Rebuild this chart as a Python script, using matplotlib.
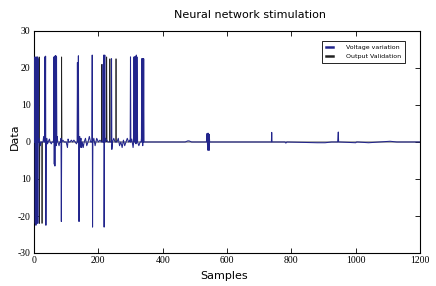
import matplotlib
matplotlib.use("Agg")
import matplotlib.pyplot as plt

# (sample, value) - voltage variation (blue)
volt_pts = [
    (0, 0), (2, 0), (3, 23), (4, -22), (5, 22.5), (6, -22.5), (7, 23), (8, -22),
    (9, 22.8), (10, -21.5), (11, 23), (12, -22), (13, 22.5), (14, 0), (16, 1), (18, 0),
    (20, -1), (22, 0), (28, 0), (30, 1.5), (32, 0), (33, 0), (34, 23), (35, 0),
    (36, 23.2), (37, -22.5), (38, 0), (40, 1), (42, -0.5), (44, 0), (48, 0.8), (50, 0),
    (54, -0.5), (56, 0), (60, 0), (61, 1), (62, 23), (63, -6), (64, 23), (65, -6.5),
    (66, 23.3), (67, 0), (68, 23.3), (69, -1), (70, 23), (71, 0), (72, 1.5), (74, 0),
    (78, -1), (80, 0), (83, 0), (84, 1), (85, -21.5), (86, 0), (90, 0.5), (94, 0),
    (100, 0), (104, -1.5), (106, 0.8), (108, 0), (112, 0), (116, 0.5), (120, 0),
    (124, 0.5), (128, 0), (132, -0.5), (134, 0), (135, 21.5), (136, 0), (138, 23.3),
    (139, 0), (140, -21.5), (141, 0), (142, 1.5), (143, -1.5), (144, 0), (146, 1),
    (148, -1.5), (150, 0), (153, -1.5), (156, 0), (160, 1), (164, -1), (168, 0),
    (172, 1.5), (176, 0), (180, 0), (181, 23.5), (182, -23), (183, 0), (186, 1),
    (190, -1), (195, 1), (200, 0), (205, 0.5), (210, 0), (214, 0), (215, 21),
    (216, 0), (217, 23.5), (218, -23), (219, 0), (220, 23.5), (221, 0), (222, 1),
    (230, 0), (240, 0), (241, 22.5), (242, -2), (244, 0), (248, 1), (252, 0),
    (258, 0), (262, 1), (266, -1), (270, 0), (274, -1.5), (278, 0.5), (282, -1),
    (286, 0), (290, 1), (294, 0), (298, 0.5), (299, 0), (300, 23), (301, 0),
    (304, 0.8), (308, -1.5), (310, 0), (311, 23), (312, 0), (313, 23), (315, 0),
    (316, 23), (317, -0.5), (318, 23.5), (319, 0), (320, 23), (322, 0), (326, -1),
    (330, 0), (333, 0), (334, 1), (335, 22.5), (336, 0), (337, 22.5), (338, -1),
    (339, 22.5), (340, 0), (341, 22.5), (342, 0), (344, 0), (350, 0), (470, 0),
    (478, 0.3), (482, 0.3), (490, 0), (530, 0), (536, 0), (538, 2.3), (540, -2.2),
    (541, 2.4), (542, -2), (543, 2.2), (544, -2.3), (545, 2), (546, 0), (548, 0),
    (600, 0), (736, 0), (738, 0), (739, 2.6), (740, 0), (742, 0), (780, 0),
    (783, -0.3), (786, 0), (880, -0.2), (905, -0.2), (925, 0), (944, 0), (946, 2.7),
    (947, 0), (948, 0), (950, 0), (1000, -0.2), (1003, 0), (1006, 0), (1040, -0.2),
    (1107, 0.2), (1128, 0), (1200, 0),
]

# (sample, value) - output validation (black)
out_pts = [
    (0, 0), (15, 0), (16, 23), (17, -22), (18, 0), (24, 0), (25, -22), (26, 0),
    (33, 0), (34, 23), (35, 0), (85, 0), (86, 23), (87, 0), (210, 0), (211, 21),
    (212, 0), (225, 0), (226, 23), (227, 0), (235, 0), (236, 22.5), (237, 0),
    (254, 0), (255, 22.5), (256, 0), (1200, 0),
]

xticks = [0, 200, 400, 600, 800, 1000, 1200]
yticks = [-30, -20, -10, 0, 10, 20, 30]
ytick_labels = ['-30', '-20', '10', '0', '10', '20', '30']

volt_x, volt_y = zip(*volt_pts)
out_x, out_y = zip(*out_pts)

fig = plt.figure(figsize=(4.36, 2.86), dpi=100)
ax = fig.add_axes([34/436, 1-253/286, (420-34)/436, (253-31)/286])

ax.plot(out_x, out_y, color='#222222', lw=0.55, zorder=2, label='Output Validation')
ax.plot(volt_x, volt_y, color='#22258c', lw=0.75, zorder=3, label='Voltage variation')

ax.set_xlim(0, 1200)
ax.set_ylim(-30, 30)
ax.set_xticks(xticks)
ax.set_yticks(yticks)
ax.set_yticklabels(ytick_labels)
ax.tick_params(direction='in', length=3.5, width=0.6, top=True, right=True, pad=2.5, labelsize=7)
for lab in ax.get_xticklabels() + ax.get_yticklabels():
    lab.set_family('Liberation Serif')
for sp in ax.spines.values():
    sp.set_linewidth(0.8)

fig.text(249.5/436, 1-15/286, 'Neural network stimulation', ha='center', va='center', fontsize=8)
fig.text(224/436, 1-276/286, 'Samples', ha='center', va='center', fontsize=8)
fig.text(15/436, 1-137/286, 'Data', ha='center', va='center', rotation=90, fontsize=8)

h, l = ax.get_legend_handles_labels()
leg = ax.legend(h[::-1], l[::-1], loc='upper left', bbox_to_anchor=(322/436, 1-41/286),
                bbox_transform=fig.transFigure, fontsize=4.5, handlelength=1.2,
                handletextpad=2.0, borderpad=0.6, labelspacing=0.55, fancybox=False,
                framealpha=1, borderaxespad=0)
leg.get_frame().set_edgecolor('black')
leg.get_frame().set_linewidth(0.6)
for line in leg.get_lines():
    line.set_linewidth(1.8)

fig.savefig('out.png', dpi=100)
